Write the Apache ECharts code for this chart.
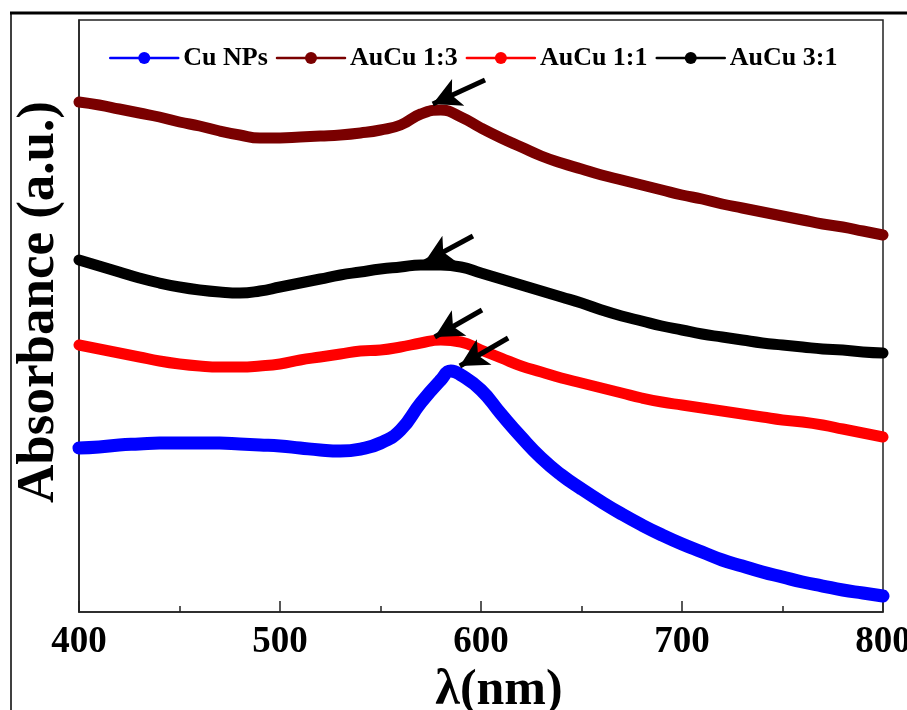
<!DOCTYPE html>
<html>
<head>
<meta charset="utf-8">
<script src="https://cdn.jsdelivr.net/npm/echarts@6/dist/echarts.min.js"></script>
<style>html,body{margin:0;padding:0;background:#fff}#c{width:907px;height:710px}</style>
</head>
<body>
<div id="c"></div>
<script>
// ---- data (wavelength nm, absorbance a.u.) ----
var seriesNames = ['Cu NPs', 'AuCu 1:3', 'AuCu 1:1', 'AuCu 3:1'];
var xTicks = [400, 500, 600, 700, 800];

var wavelength = [400,410,420,430,440,450,460,470,480,490,500,510,520,530,540,550,560,570,580,590,600,
                  610,620,630,640,650,660,670,680,690,700,710,720,730,740,750,760,770,780,790,800];

var cuWavelength = [400,410,420,430,440,450,460,470,480,490,500,510,520,530,540,550,560,570,580,585,590,600,
                    610,620,630,640,650,660,670,680,690,700,710,720,730,740,750,760,770,780,790,800];
var cuNPs = [0.328,0.330,0.334,0.336,0.338,0.338,0.338,0.338,0.336,0.334,0.332,0.328,0.324,0.322,0.326,0.338,0.364,0.418,0.464,0.482,0.474,0.444,
             0.396,0.350,0.308,0.274,0.246,0.220,0.196,0.174,0.154,0.136,0.120,0.104,0.092,0.080,0.070,0.060,0.052,0.044,0.038,0.032];

var auCu13 = [1.020,1.014,1.006,0.998,0.990,0.980,0.972,0.962,0.954,0.948,0.948,0.950,0.952,0.954,0.958,0.964,0.974,0.996,1.004,0.990,0.968,
              0.948,0.930,0.912,0.898,0.886,0.874,0.864,0.854,0.844,0.834,0.826,0.816,0.808,0.800,0.792,0.784,0.776,0.770,0.762,0.754];

var auCu11 = [0.534,0.526,0.518,0.510,0.502,0.496,0.492,0.490,0.490,0.492,0.496,0.504,0.510,0.516,0.522,0.524,0.530,0.538,0.544,0.540,0.524,
              0.508,0.492,0.480,0.468,0.458,0.448,0.438,0.428,0.420,0.414,0.408,0.402,0.396,0.390,0.384,0.380,0.374,0.366,0.358,0.350];

var auCu31 = [0.704,0.692,0.680,0.668,0.658,0.650,0.644,0.640,0.638,0.642,0.650,0.658,0.666,0.674,0.680,0.686,0.690,0.694,0.694,0.690,0.678,
              0.666,0.654,0.642,0.630,0.618,0.604,0.592,0.582,0.572,0.564,0.556,0.550,0.544,0.538,0.534,0.530,0.526,0.524,0.520,0.518];

// peak-marking arrows: tail and tip in data units
var arrowTail = [[602, 1.064], [596, 0.752], [600.5, 0.604], [613.5, 0.548]];
var arrowTip  = [[576, 1.016], [572, 0.700], [577, 0.550], [589.5, 0.492]];

var colors = ['#0000ff', '#7a0000', '#ff0000', '#000000'];

function pairs(xs, ys) { return xs.map(function (x, i) { return [x, ys[i]]; }); }

var FONT = '"Liberation Serif", "Times New Roman", serif';
var chart = echarts.init(document.getElementById('c'), null, { renderer: 'canvas' });

var dataSets = [pairs(cuWavelength, cuNPs), pairs(wavelength, auCu13), pairs(wavelength, auCu11), pairs(wavelength, auCu31)];
var widths = [13, 11, 11, 11];

var series = seriesNames.map(function (n, i) {
  return {
    name: n, type: 'line', data: dataSets[i], smooth: 0.5,
    symbol: 'circle', showSymbol: false, symbolSize: 12,
    lineStyle: { color: colors[i], width: widths[i], cap: 'round', join: 'round' },
    itemStyle: { color: colors[i] },
    silent: true, z: 2
  };
});

series.push({
  name: 'arrows', type: 'line', data: [], silent: true, z: 5,
  markLine: {
    silent: true, animation: false,
    symbol: ['none', 'arrow'], symbolSize: [22, 28],
    lineStyle: { color: '#000', width: 5, type: 'solid' },
    label: { show: false },
    data: arrowTail.map(function (t, i) {
      return [{ coord: t }, { coord: arrowTip[i] }];
    })
  }
});

chart.setOption({
  animation: false,
  backgroundColor: '#fff',
  grid: { left: 79, top: 20, right: 24, bottom: 98, show: true, borderColor: '#222', borderWidth: 1.5,
    backgroundColor: 'transparent', containLabel: false, outerBoundsMode: 'none' },
  legend: {
    data: seriesNames, left: 104, top: 40,
    itemWidth: 68, itemHeight: 15, itemGap: 8,
    lineStyle: { width: 2.5 },
    textStyle: { fontFamily: FONT, fontWeight: 'bold', fontSize: 26, color: '#000' }
  },
  xAxis: {
    type: 'value', min: 400, max: 800, interval: 100,
    name: 'λ(nm)', nameLocation: 'middle', nameGap: 50,
    nameTextStyle: { fontFamily: FONT, fontWeight: 'bold', fontSize: 50, color: '#000', padding: [0, 0, 0, 36] },
    axisLine: { show: true, onZero: false, lineStyle: { color: '#222', width: 1.5 } },
    axisTick: { show: true, inside: true, length: 11, lineStyle: { color: '#222', width: 1.5 } },
    minorTick: { show: true, splitNumber: 2, length: 6, lineStyle: { color: '#222', width: 1.5 } },
    splitLine: { show: false },
    axisLabel: { fontFamily: FONT, fontWeight: 'bold', fontSize: 37, color: '#000', margin: 12,
      formatter: function (v) { return xTicks.indexOf(v) >= 0 ? String(v) : ''; } }
  },
  yAxis: {
    type: 'value', min: 0, max: 1.184,
    name: 'Absorbance (a.u.)', nameLocation: 'middle', nameGap: 13,
    nameTextStyle: { fontFamily: FONT, fontWeight: 'bold', fontSize: 53, color: '#000', padding: [0, 0, 0, 28] },
    axisLine: { show: true, lineStyle: { color: '#222', width: 1.5 } },
    axisTick: { show: false }, axisLabel: { show: false }, splitLine: { show: false }
  },
  graphic: [
    { type: 'line', shape: { x1: 10, y1: 13, x2: 907, y2: 13 }, style: { stroke: '#000', lineWidth: 3 }, silent: true },
    { type: 'line', shape: { x1: 11, y1: 13, x2: 11, y2: 710 }, style: { stroke: '#000', lineWidth: 1.5 }, silent: true }
  ],
  series: series
});
</script>
</body>
</html>
